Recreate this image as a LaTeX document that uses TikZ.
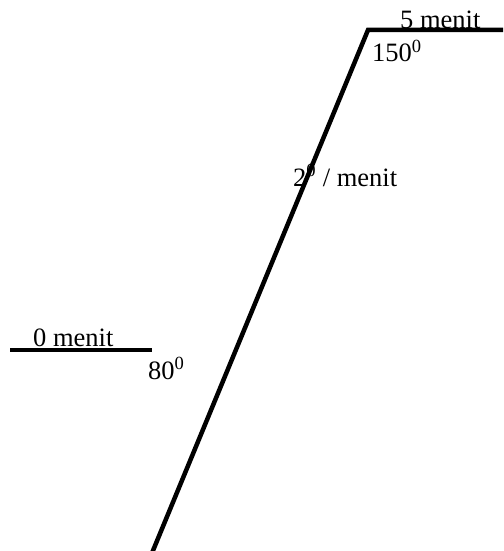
\documentclass[tikz,border=0pt]{standalone}
\usepackage{fontspec}
\setmainfont{Liberation Serif}
\begin{document}
\begin{tikzpicture}[x=1pt,y=-1pt,
  thick line/.style={line width=4.5pt,black},
  lbl/.style={anchor=base west,inner sep=0pt,font=\fontsize{26.5}{30}\selectfont}]
\useasboundingbox (0,0) rectangle (503,551);
\node[lbl] (t5) at (400,29) {5 menit};
\node[lbl] (t150) at (372,62) {150\textsuperscript{0}};
\node[lbl] (trate) at (293,186) {2\textsuperscript{0} / menit};
\node[lbl] (t0) at (33,346) {0 menit};
\node[lbl] (t80) at (148,379) {80\textsuperscript{0}};
\coordinate (topR) at (503,30);
\coordinate (corner) at (368,30);
\coordinate (bottom) at (152,553);
\coordinate (leftA) at (10,350);
\coordinate (leftB) at (152,350);
\draw[thick line] (topR) -- (corner) -- (bottom);
\draw[thick line] (leftA) -- (leftB);
\end{tikzpicture}
\end{document}
